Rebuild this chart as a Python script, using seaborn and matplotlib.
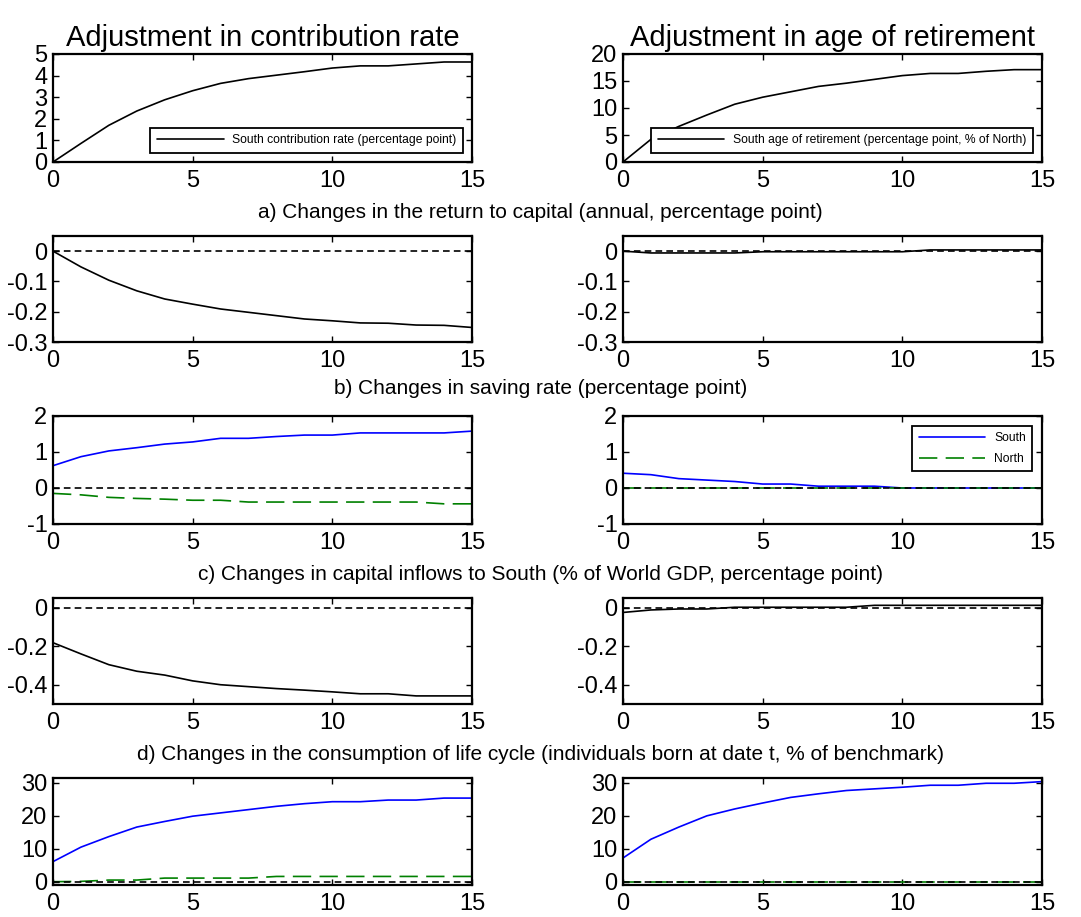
import numpy as np
import pandas as pd
import matplotlib
matplotlib.use("Agg")
import matplotlib.pyplot as plt
import seaborn as sns

# horizon (years after the reform)
years = [0, 1, 2, 3, 4, 5, 6, 7, 8, 9, 10, 11, 12, 13, 14, 15]

# top row: policy adjustments
contrib_rate = [0, 0.86, 1.70, 2.36, 2.88, 3.30, 3.64, 3.86, 4.02, 4.18, 4.35, 4.45, 4.45, 4.54, 4.63, 4.63]
retire_age = [0, 4.2, 6.6, 8.7, 10.7, 12.0, 13.0, 14.0, 14.6, 15.3, 16.0, 16.4, 16.4, 16.8, 17.1, 17.1]

# a) return to capital
ret_contrib = [0, -0.052, -0.096, -0.131, -0.158, -0.175, -0.191, -0.202, -0.213, -0.224, -0.230,
               -0.237, -0.238, -0.244, -0.245, -0.252]
ret_retire = [0, -0.006, -0.006, -0.006, -0.006, -0.002, -0.002, -0.002, -0.002, -0.002, -0.002,
              0.004, 0.004, 0.004, 0.004, 0.004]

# b) saving rate
sav_south_contrib = [0.62, 0.87, 1.03, 1.12, 1.22, 1.28, 1.38, 1.38, 1.43, 1.47, 1.47, 1.53, 1.53, 1.53, 1.53, 1.58]
sav_north_contrib = [-0.15, -0.19, -0.26, -0.29, -0.31, -0.34, -0.34, -0.39, -0.39, -0.39, -0.39,
                     -0.39, -0.39, -0.39, -0.44, -0.44]
sav_south_retire = [0.41, 0.37, 0.26, 0.22, 0.18, 0.11, 0.11, 0.05, 0.05, 0.05, 0, 0, 0, 0, 0, 0]
sav_north_retire = [0, 0, 0, 0, 0, 0, 0, 0, 0, 0, 0, 0, 0, 0, 0, 0]

# c) capital inflows to South
flow_contrib = [-0.182, -0.24, -0.296, -0.33, -0.35, -0.38, -0.40, -0.41, -0.42, -0.428, -0.437,
                -0.447, -0.447, -0.458, -0.458, -0.458]
flow_retire = [-0.025, -0.012, -0.007, -0.007, 0.002, 0.002, 0.002, 0.002, 0.002, 0.012, 0.012,
               0.012, 0.012, 0.012, 0.012, 0.012]

# d) consumption of life cycle
cons_south_contrib = [6.1, 10.5, 13.7, 16.6, 18.3, 19.9, 20.9, 21.9, 22.9, 23.7, 24.3, 24.3, 24.8, 24.8, 25.4, 25.4]
cons_north_contrib = [0, 0.1, 0.5, 0.5, 1.1, 1.1, 1.1, 1.1, 1.6, 1.6, 1.6, 1.6, 1.6, 1.6, 1.6, 1.6]
cons_south_retire = [7.2, 12.9, 16.6, 20.0, 22.1, 23.9, 25.6, 26.7, 27.7, 28.2, 28.7, 29.3, 29.3, 29.9, 29.9, 30.4]
cons_north_retire = [0, 0, 0, 0, 0, 0, 0, 0, 0, 0, 0, 0, 0, 0, 0, 0]

col_titles = ["Adjustment in contribution rate", "Adjustment in age of retirement"]
captions = ["a) Changes in the return to capital (annual, percentage point)",
            "b) Changes in saving rate (percentage point)",
            "c) Changes in capital inflows to South (% of World GDP, percentage point)",
            "d) Changes in the consumption of life cycle (individuals born at date t, % of benchmark)"]

sns.set_style("ticks")
plt.rcParams["font.family"] = ["Liberation Sans", "DejaVu Sans"]
plt.rcParams["axes.unicode_minus"] = False
plt.rcParams["text.color"] = "black"
plt.rcParams["axes.labelcolor"] = "black"

BLUE = "#0000ff"
GREEN = "#008000"
LW = 1.2
NORTH_DASH = (0, (11, 5))
ZERO_DASH = (0, (4, 2.5))

fig = plt.figure(figsize=(10.81, 9.17), dpi=100)

lefts = [53 / 1081, 623 / 1081]
width = 419 / 1081
rows_px = [(54, 162), (236, 342), (416, 524), (598, 704), (778, 885)]

axes = []
for top, bot in rows_px:
    row = []
    for l in lefts:
        ax = fig.add_axes([l, 1 - bot / 917, width, (bot - top) / 917])
        row.append(ax)
    axes.append(row)


def style(ax, ylim, yticks):
    ax.set_xlim(0, 15)
    ax.set_xticks([0, 5, 10, 15])
    ax.set_ylim(*ylim)
    ax.set_yticks(yticks)
    ax.set_yticklabels([f"{v:g}" for v in yticks])
    ax.tick_params(direction="in", top=True, right=True, length=4, width=1.0,
                   labelsize=17, colors="black")
    ax.tick_params(axis="x", pad=6)
    ax.tick_params(axis="y", pad=4)
    for s in ax.spines.values():
        s.set_visible(True)
        s.set_linewidth(1.6)
        s.set_color("black")
    ax.set_xlabel("")
    ax.set_ylabel("")


def zero_line(ax):
    ax.axhline(0, color="black", lw=LW, linestyle=ZERO_DASH, zorder=3)


def box_legend(ax, loc, pad):
    leg = ax.legend(loc=loc, fontsize=8.7, handlelength=5.5, handletextpad=0.7, frameon=True,
                    fancybox=False, framealpha=1, edgecolor="black", borderaxespad=pad,
                    borderpad=0.55, labelspacing=0.7)
    leg.get_frame().set_linewidth(1.3)


# top row
sns.lineplot(x=years, y=contrib_rate, ax=axes[0][0], color="black", lw=LW,
             label="South contribution rate (percentage point)")
style(axes[0][0], (0, 5), [0, 1, 2, 3, 4, 5])
box_legend(axes[0][0], "lower right", 0.75)
axes[0][0].set_title(col_titles[0], fontsize=21, pad=6, color="black")

sns.lineplot(x=years, y=retire_age, ax=axes[0][1], color="black", lw=LW,
             label="South age of retirement (percentage point, % of North)")
style(axes[0][1], (0, 20), [0, 5, 10, 15, 20])
box_legend(axes[0][1], "lower right", 0.75)
axes[0][1].set_title(col_titles[1], fontsize=21, pad=6, color="black")

# a) return to capital
for ax, vals in zip(axes[1], [ret_contrib, ret_retire]):
    zero_line(ax)
    sns.lineplot(x=years, y=vals, ax=ax, color="black", lw=LW, legend=False)
    style(ax, (-0.3, 0.05), [-0.3, -0.2, -0.1, 0])

# b) saving rate
for ax, s_vals, n_vals in zip(axes[2], [sav_south_contrib, sav_south_retire],
                              [sav_north_contrib, sav_north_retire]):
    sns.lineplot(x=years, y=s_vals, ax=ax, color=BLUE, lw=LW, label="South")
    sns.lineplot(x=years, y=n_vals, ax=ax, color=GREEN, lw=LW, linestyle=NORTH_DASH, label="North")
    zero_line(ax)
    style(ax, (-1, 2), [-1, 0, 1, 2])
axes[2][0].get_legend().remove()
box_legend(axes[2][1], "upper right", 0.8)

# c) capital inflows
for ax, vals in zip(axes[3], [flow_contrib, flow_retire]):
    zero_line(ax)
    sns.lineplot(x=years, y=vals, ax=ax, color="black", lw=LW, legend=False)
    style(ax, (-0.5, 0.05), [-0.4, -0.2, 0])

# d) consumption
for ax, s_vals, n_vals in zip(axes[4], [cons_south_contrib, cons_south_retire],
                              [cons_north_contrib, cons_north_retire]):
    sns.lineplot(x=years, y=s_vals, ax=ax, color=BLUE, lw=LW, legend=False)
    sns.lineplot(x=years, y=n_vals, ax=ax, color=GREEN, lw=LW, linestyle=NORTH_DASH, legend=False)
    zero_line(ax)
    style(ax, (-1, 31.5), [0, 10, 20, 30])

for y_px, text in zip([213, 388, 575, 755], captions):
    fig.text(0.5, 1 - y_px / 917, text, ha="center", va="center", fontsize=15, color="black")

fig.savefig("out.png", dpi=100)
